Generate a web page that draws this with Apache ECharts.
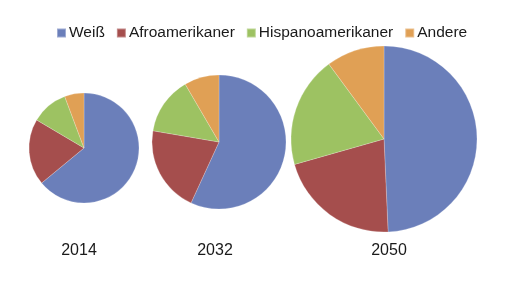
<!DOCTYPE html>
<html>
<head>
<meta charset="utf-8">
<script src="https://cdn.jsdelivr.net/npm/echarts@6/dist/echarts.min.js"></script>
<style>
  html, body { margin: 0; padding: 0; background: #fff; }
  #chart { width: 520px; height: 292px; }
</style>
</head>
<body>
<div id="chart"></div>
<script>
const categories = ['Weiß', 'Afroamerikaner', 'Hispanoamerikaner', 'Andere']
const years = ['2014', '2032', '2050']
const weiss = [64.0, 56.8, 49.3]
const afro = [19.5, 20.8, 21.3]
const hispano = [10.8, 13.9, 19.3]
const andere = [5.7, 8.4, 10.1]

const colors = ['#6b7fba', '#a54e4d', '#9dc262', '#e0a055']
// pie layout per year: center x, center y, radius
const pieCenters = [[84, 148], [219, 142], [384, 139]]
const pieRadius = [55, 67, 93]

const chart = echarts.init(document.getElementById('chart'))

const series = years.map((y, i) => ({
  type: 'pie',
  name: y,
  center: pieCenters[i],
  radius: pieRadius[i],
  startAngle: 90,
  clockwise: true,
  label: { show: false },
  labelLine: { show: false },
  emphasis: { disabled: true },
  itemStyle: { borderColor: 'rgba(255,255,255,0.35)', borderWidth: 0.6 },
  data: [
    { name: categories[0], value: weiss[i] },
    { name: categories[1], value: afro[i] },
    { name: categories[2], value: hispano[i] },
    { name: categories[3], value: andere[i] }
  ]
}))

// year captions below each pie
const labelX = [79, 215, 389]
const captions = years.map((y, i) => ({
  type: 'text',
  x: labelX[i],
  y: 251,
  style: {
    text: y,
    align: 'center',
    verticalAlign: 'middle',
    font: '16px "Liberation Sans", Arial',
    fill: '#1a1a1a'
  }
}))

chart.setOption({
  backgroundColor: '#ffffff',
  animation: false,
  color: colors,
  graphic: captions,
  legend: {
    data: categories,
    left: 51,
    top: 20,
    icon: 'rect',
    itemWidth: 9,
    itemHeight: 9,
    itemGap: 11,
    textStyle: { fontFamily: 'Liberation Sans, Arial', fontSize: 15.5, color: '#1a1a1a', padding: [0, 0, 0, -2] }
  },
  series: series
})
</script>
</body>
</html>
